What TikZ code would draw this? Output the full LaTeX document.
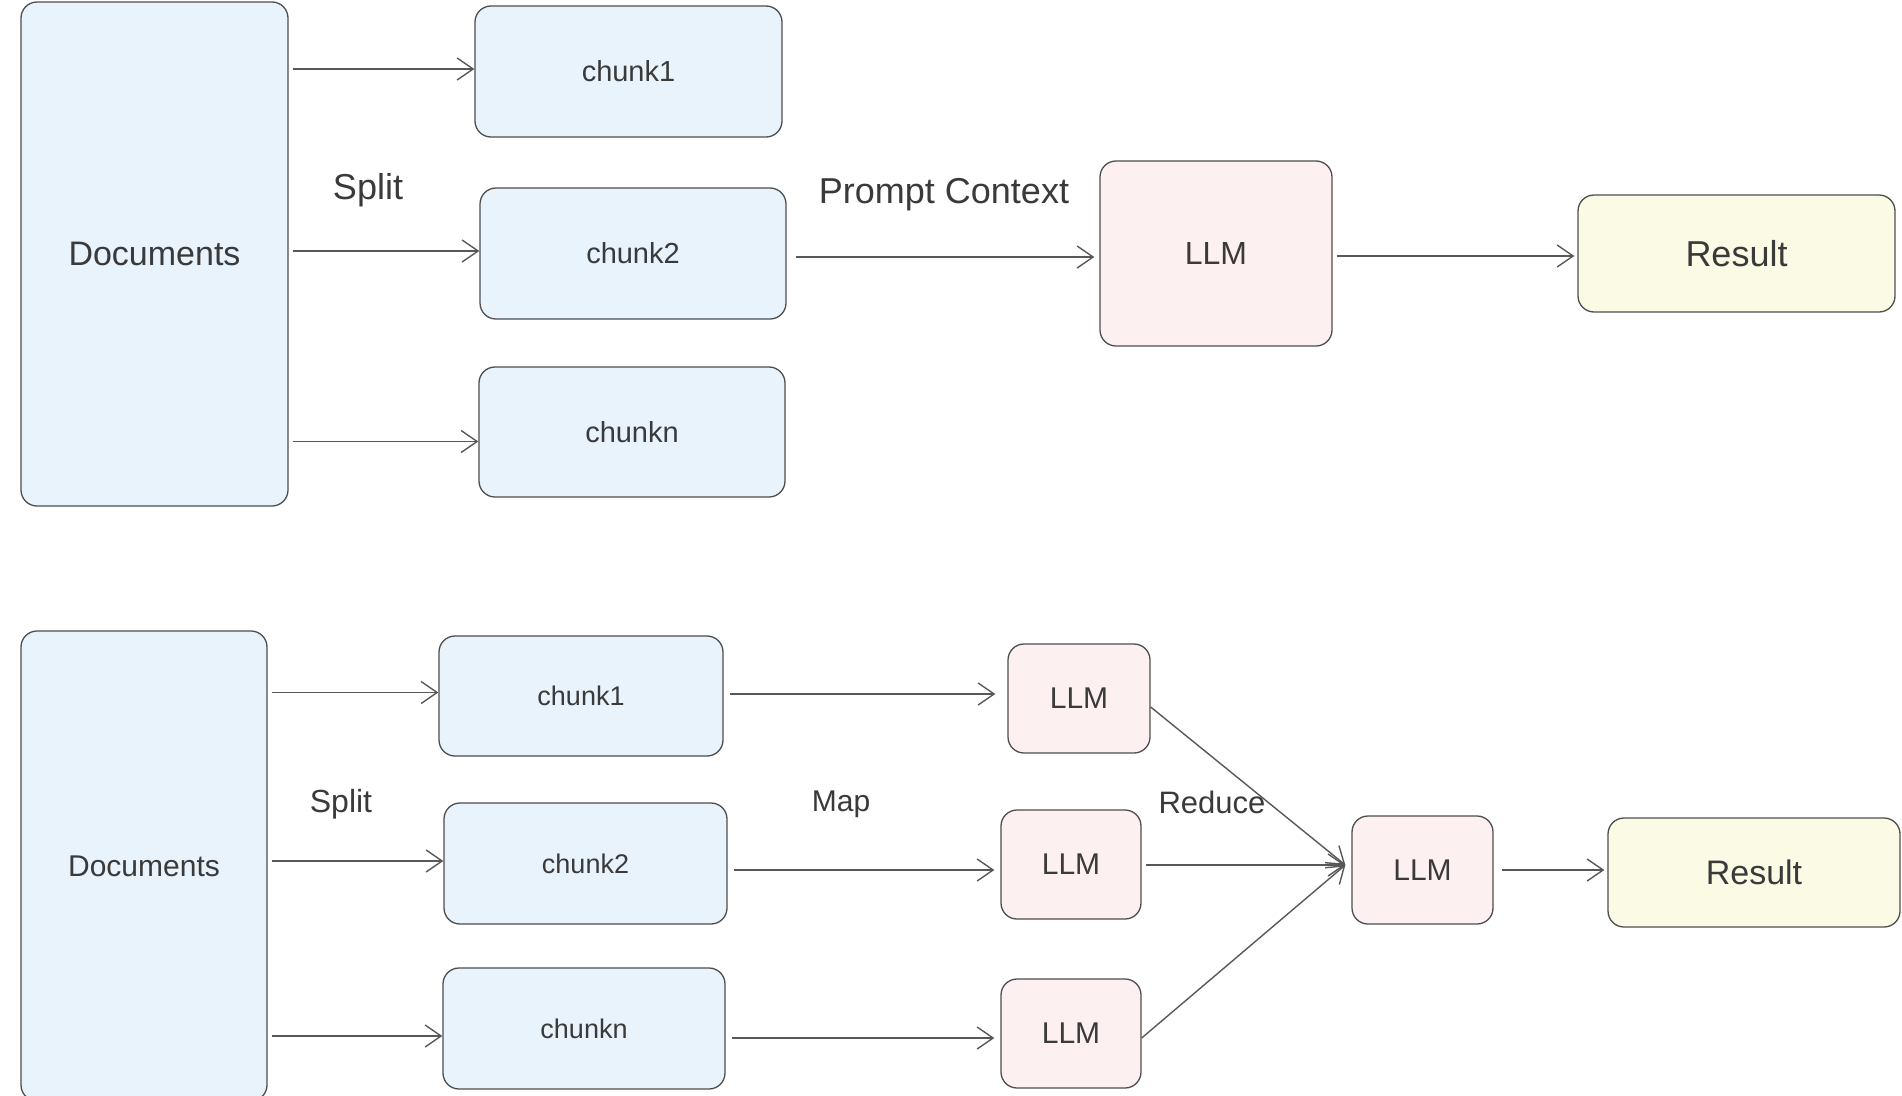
\documentclass[tikz,border=0pt]{standalone}
\usepackage{fontspec}
\setmainfont{Liberation Sans}
\usepackage{tikz}
\usetikzlibrary{arrows.meta,positioning,calc}
\definecolor{mrblue}{HTML}{E8F3FC}
\definecolor{mrpink}{HTML}{FDF0F0}
\definecolor{mryellow}{HTML}{FBFAE4}
\definecolor{mrink}{HTML}{3A3A3A}
\tikzset{
  baseBox/.style={draw=mrink!90, line width=1.3pt, rounded corners=16pt, inner sep=0pt, align=center, text=mrink},
  docBox/.style={baseBox, fill=mrblue, font=\fontsize{#1pt}{#1pt}\selectfont},
  chunkBox/.style={baseBox, fill=mrblue, font=\fontsize{#1pt}{#1pt}\selectfont},
  llmBox/.style={baseBox, fill=mrpink, font=\fontsize{#1pt}{#1pt}\selectfont},
  resultBox/.style={baseBox, fill=mryellow, font=\fontsize{#1pt}{#1pt}\selectfont},
  flowArrow/.style={-{Straight Barb[length=16pt,width=22pt,line width=1.4pt]}, line width=1.4pt, draw=mrink!85},
  stepLabel/.style={text=mrink, inner sep=0pt, font=\fontsize{#1pt}{#1pt}\selectfont}
}

\begin{document}
\begin{tikzpicture}[x=1pt,y=-1pt]
  \useasboundingbox[fill=white] (0,0) rectangle (1902,1095);
  % stuff pipeline
  \node[docBox=34, minimum width=267pt, minimum height=504pt] (docsA) at (154.5,254) {Documents};
  \node[chunkBox=29, minimum width=307pt, minimum height=131pt] (chunkA1) at (628.5,71.5) {chunk1};
  \node[chunkBox=29, minimum width=306pt, minimum height=131pt] (chunkA2) at (633,253.5) {chunk2};
  \node[chunkBox=29, minimum width=306pt, minimum height=130pt] (chunkAn) at (632,432) {chunkn};
  \node[llmBox=32, minimum width=232pt, minimum height=185pt] (llmA) at (1216,253.5) {LLM};
  \node[resultBox=36, minimum width=317pt, minimum height=117pt] (resA) at (1736.5,253.5) {Result};
  \node[stepLabel=36] (splitA) at (368,190) {Split};
  \node[stepLabel=36] (promptA) at (944,195) {Prompt Context};
  \draw[flowArrow] ([xshift=4pt,yshift=2.5pt]docsA.east |- chunkA1.west) -- ([yshift=2.5pt]chunkA1.west);
  \draw[flowArrow] ([xshift=4pt,yshift=2.5pt]docsA.east |- chunkA2.west) -- ([yshift=2.5pt]chunkA2.west);
  \draw[flowArrow] ([xshift=4pt,yshift=-9.5pt]docsA.east |- chunkAn.west) -- ([yshift=-9.5pt]chunkAn.west);
  \draw[flowArrow] ([xshift=9pt,yshift=-3.5pt]chunkA2.east) -- ([xshift=-5pt,yshift=-3.5pt]llmA.west);
  \draw[flowArrow] ([xshift=4pt,yshift=-2.5pt]llmA.east) -- ([xshift=-3pt,yshift=-2.5pt]resA.west);
  % map-reduce pipeline
  \node[docBox=30, minimum width=246pt, minimum height=470pt] (docsB) at (144,866) {Documents};
  \node[chunkBox=27, minimum width=284pt, minimum height=120pt] (chunkB1) at (581,696) {chunk1};
  \node[chunkBox=27, minimum width=283pt, minimum height=121pt] (chunkB2) at (585.5,863.5) {chunk2};
  \node[chunkBox=27, minimum width=282pt, minimum height=121pt] (chunkBn) at (584,1028.5) {chunkn};
  \node[llmBox=30, minimum width=142pt, minimum height=109pt] (llmB1) at (1079,698.5) {LLM};
  \node[llmBox=30, minimum width=140pt, minimum height=109pt] (llmB2) at (1071,864.5) {LLM};
  \node[llmBox=30, minimum width=140pt, minimum height=109pt] (llmBn) at (1071,1033.5) {LLM};
  \node[llmBox=30, minimum width=141pt, minimum height=108pt] (llmB) at (1422.5,870) {LLM};
  \node[resultBox=34, minimum width=292pt, minimum height=109pt] (resB) at (1754,872.5) {Result};
  \node[stepLabel=32] (splitB) at (341,804) {Split};
  \node[stepLabel=30] (mapB) at (841,804) {Map};
  \node[stepLabel=31] (reduceB) at (1212,802) {Reduce};
  \coordinate (joinB) at ([xshift=-6pt,yshift=5pt]llmB.west);
  \draw[flowArrow] ([xshift=4pt,yshift=3.5pt]docsB.east |- chunkB1.west) -- ([yshift=3.5pt]chunkB1.west);
  \draw[flowArrow] ([xshift=4pt,yshift=2.5pt]docsB.east |- chunkB2.west) -- ([yshift=2.5pt]chunkB2.west);
  \draw[flowArrow] ([xshift=4pt,yshift=-7.5pt]docsB.east |- chunkBn.west) -- ([yshift=-7.5pt]chunkBn.west);
  \draw[flowArrow] ([xshift=6pt,yshift=2pt]chunkB1.east) -- ([xshift=-12pt,yshift=2pt]llmB1.west |- chunkB1.east);
  \draw[flowArrow] ([xshift=6pt,yshift=-6.5pt]chunkB2.east) -- ([xshift=-6pt,yshift=-6.5pt]llmB2.west |- chunkB2.east);
  \draw[flowArrow] ([xshift=6pt,yshift=-9.5pt]chunkBn.east) -- ([xshift=-6pt,yshift=-9.5pt]llmBn.west |- chunkBn.east);
  \draw[flowArrow] ([yshift=-8.5pt]llmB1.east) -- (joinB);
  \draw[flowArrow] ([xshift=4pt]llmB2.east |- joinB) -- (joinB);
  \draw[flowArrow] ([yshift=-4.5pt]llmBn.east) -- (joinB);
  \draw[flowArrow] ([xshift=8pt]llmB.east) -- ([xshift=-3pt]resB.west |- llmB.east);
\end{tikzpicture}
\end{document}
